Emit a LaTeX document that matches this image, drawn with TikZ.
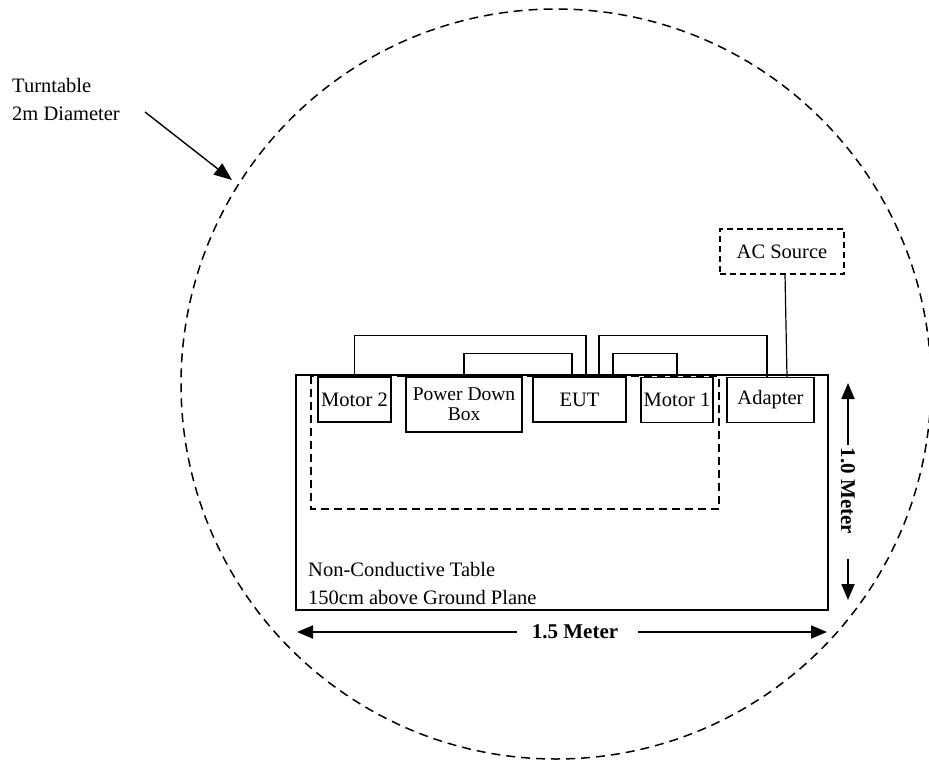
\documentclass[tikz,border=0pt]{standalone}
\usepackage{fontspec}
\setmainfont{Liberation Serif}
\usetikzlibrary{arrows.meta,calc}

\begin{document}
\begin{tikzpicture}[x=1pt,y=-1pt,
  font=\fontsize{20.5}{28}\selectfont,
  unit/.style={draw,line width=1.1pt,inner sep=0pt,minimum height=45pt,align=center},
  cable/.style={line width=1.2pt},
  dim/.style={line width=1.8pt,-{Triangle[length=16pt,width=13pt]}},
  dimlabel/.style={font=\fontsize{21}{26}\selectfont\bfseries,inner sep=0pt}]
  \useasboundingbox (0,0) rectangle (929,760);
  % turntable
  \draw[line width=1.5pt,dash pattern=on 9pt off 6pt] (556,384) circle (375);
  \node[anchor=west,align=left,inner sep=0pt] (tt) at (12,99) {Turntable\\2m Diameter};
  \coordinate (ttstart) at (145,112);
  \coordinate (ttend) at (232,180);
  \draw[line width=1.4pt,-{Triangle[length=18pt,width=14pt]}] (ttstart) -- (ttend);
  % table
  \node[draw,line width=2.5pt,minimum width=532pt,minimum height=235pt,inner sep=0pt] (tbl) at (562,492.5) {};
  \node[anchor=south west,align=left,inner sep=0pt] (tlabel) at (308,605) {Non-Conductive Table\\150cm above Ground Plane};
  \draw[line width=1.5pt,dash pattern=on 8pt off 5pt] (311,376) rectangle (719,509);
  % units
  \node[unit,minimum width=73pt] (m2) at (354.5,399.5) {Motor 2};
  \node[unit,minimum width=116pt,minimum height=55pt,font=\fontsize{19.5}{20}\selectfont] (pdb) at (464,404.5) {Power Down\\Box};
  \node[unit,minimum width=93pt] (eut) at (579.5,399.5) {EUT};
  \node[unit,minimum width=72pt] (m1) at (677,400) {Motor 1};
  \node[unit,minimum width=87pt] (adp) at (770.5,400) {Adapter};
  \node[unit,dash pattern=on 6pt off 4pt,minimum width=124pt] (ac) at (782,251.5) {AC Source};
  % cables
  \draw[cable] (m2.north) -- ++(0,-41) -| ($(eut.north)+(6.5,0)$);
  \draw[cable] (pdb.north) -- ++(0,-23) -| ($(eut.north)+(-7.5,0)$);
  \draw[cable] ($(eut.north)+(19.5,0)$) -- ++(0,-41) -| ($(adp.north)+(-3.5,0)$);
  \draw[cable] ($(eut.north)+(33.5,0)$) -- ++(0,-23) -| (m1.north);
  \draw[cable] ($(ac.south)+(3,0)$) -- ($(adp.north)+(16.5,0)$);
  % dimensions
  \node[dimlabel] (wlab) at (575,632) {1.5 Meter};
  \coordinate (wl) at (297,632);
  \coordinate (wr) at (827,632);
  \draw[dim] ($(wlab.west)+(-15,0)$) -- (wl);
  \draw[dim] ($(wlab.east)+(20,0)$) -- (wr);
  \node[dimlabel,rotate=-90] (hlab) at (848,491) {1.0 Meter};
  \coordinate (ht) at (848,383);
  \coordinate (hb) at (848,600);
  \draw[dim] ($(hlab.west)+(0,-3)$) -- (ht);
  \draw[dim] ($(hlab.east)+(0,25)$) -- (hb);
\end{tikzpicture}
\end{document}
